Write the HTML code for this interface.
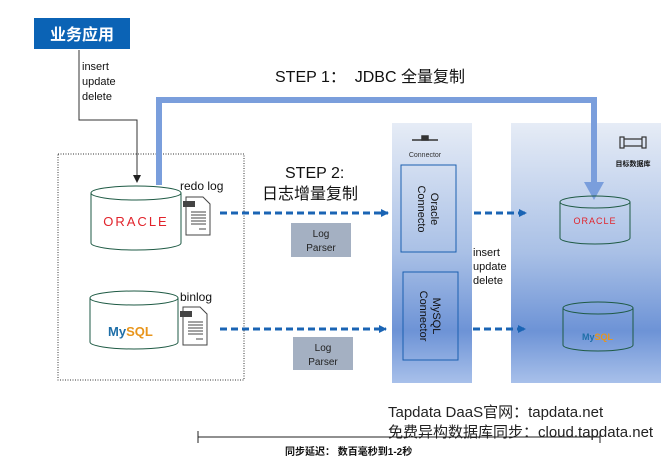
<!DOCTYPE html>
<html><head><meta charset="utf-8"><style>
body{margin:0;width:670px;height:466px;background:#fff;overflow:hidden}
text{font-family:"Liberation Sans","Noto Sans CJK SC",sans-serif}
</style></head><body>
<svg width="670" height="466" viewBox="0 0 670 466" xmlns="http://www.w3.org/2000/svg">
<defs>
<linearGradient id="g1" x1="0" y1="0" x2="0" y2="1">
<stop offset="0" stop-color="#e6ecf6"/><stop offset="0.5" stop-color="#a9c0e6"/><stop offset="0.8" stop-color="#6d93d6"/><stop offset="1" stop-color="#a8c0ea"/></linearGradient>
<marker id="ab" markerWidth="8" markerHeight="8" refX="7" refY="4" orient="auto" markerUnits="userSpaceOnUse"><path d="M0,0 L8,4 L0,8 z" fill="#1a64b4"/></marker>
<marker id="ak" markerWidth="8" markerHeight="8" refX="7" refY="4" orient="auto" markerUnits="userSpaceOnUse"><path d="M0,0 L8,4 L0,8 z" fill="#222"/></marker>
</defs>
<rect x="34" y="18" width="96" height="31" fill="#0b63b5"/>
<text x="82" y="40" font-size="16" font-weight="bold" fill="#fff" text-anchor="middle">业务应用</text>
<polyline points="79,50 79,120 137,120 137,182" fill="none" stroke="#333" stroke-width="1" marker-end="url(#ak)"/>
<text font-size="11" fill="#111"><tspan x="82" y="70">insert</tspan><tspan x="82" y="85">update</tspan><tspan x="82" y="100">delete</tspan></text>
<text x="275" y="82" font-size="16" fill="#111" xml:space="preserve">STEP 1：  JDBC 全量复制</text>
<rect x="392" y="123" width="80" height="260" fill="url(#g1)"/>
<rect x="511" y="123" width="150" height="260" fill="url(#g1)"/>
<rect x="58" y="154" width="186" height="226" fill="none" stroke="#333" stroke-dasharray="1,1.5"/>
<polyline points="159,185 159,100 594,100 594,185" fill="none" stroke="#7a9edc" stroke-width="6"/>
<path d="M584,182 L604,182 L594,200 z" fill="#7a9edc"/>
<text x="285" y="178" font-size="16" fill="#111">STEP 2:</text>
<text x="262" y="199" font-size="16" fill="#111">日志增量复制</text>
<path d="M91,193 L91,243 A45,7 0 0 0 181,243 L181,193" fill="#fff" stroke="#1e5a44"/>
<ellipse cx="136" cy="193" rx="45" ry="7" fill="#fff" stroke="#1e5a44"/>
<text x="136" y="226" font-size="13" fill="#e1232b" text-anchor="middle" letter-spacing="2">ORACLE</text>
<text x="180" y="190" font-size="12" fill="#111">redo log</text>
<g transform="translate(183,197)"><path d="M3,0 L20,0 L27,7 L27,38 L3,38 z" fill="#fff" stroke="#444"/><rect x="0" y="4" width="12" height="6" fill="#444"/><g stroke="#444"><line x1="8" y1="15" x2="23" y2="15"/><line x1="8" y1="18" x2="23" y2="18"/><line x1="8" y1="21" x2="23" y2="21"/><line x1="8" y1="24" x2="23" y2="24"/><line x1="8" y1="27" x2="23" y2="27"/><line x1="16" y1="32" x2="23" y2="32"/></g></g>
<path d="M90,298 L90,342 A44,7 0 0 0 178,342 L178,298" fill="#fff" stroke="#1e5a44"/>
<ellipse cx="134" cy="298" rx="44" ry="7" fill="#fff" stroke="#1e5a44"/>
<text x="108" y="336" font-size="13" font-weight="bold" fill="#1f6fa8">My<tspan fill="#e8951b">SQL</tspan></text>
<text x="180" y="301" font-size="12" fill="#111">binlog</text>
<g transform="translate(180,307)"><path d="M3,0 L20,0 L27,7 L27,38 L3,38 z" fill="#fff" stroke="#444"/><rect x="0" y="4" width="12" height="6" fill="#444"/><g stroke="#444"><line x1="8" y1="15" x2="23" y2="15"/><line x1="8" y1="18" x2="23" y2="18"/><line x1="8" y1="21" x2="23" y2="21"/><line x1="8" y1="24" x2="23" y2="24"/><line x1="8" y1="27" x2="23" y2="27"/><line x1="16" y1="32" x2="23" y2="32"/></g></g>
<g stroke="#1a64b4" stroke-width="3" stroke-dasharray="7,4" fill="none">
<line x1="220" y1="213" x2="388" y2="213" marker-end="url(#ab)"/>
<line x1="220" y1="329" x2="386" y2="329" marker-end="url(#ab)"/>
<line x1="474" y1="213" x2="526" y2="213" marker-end="url(#ab)"/>
<line x1="473" y1="329" x2="525" y2="329" marker-end="url(#ab)"/>
</g>
<rect x="291" y="223" width="60" height="34" fill="#a4b0c2"/>
<text font-size="10" fill="#222" text-anchor="middle"><tspan x="321" y="237">Log</tspan><tspan x="321" y="251">Parser</tspan></text>
<rect x="293" y="337" width="60" height="33" fill="#a4b0c2"/>
<text font-size="10" fill="#222" text-anchor="middle"><tspan x="323" y="351">Log</tspan><tspan x="323" y="365">Parser</tspan></text>
<g stroke="#333" stroke-width="1.5"><line x1="412" y1="140" x2="438" y2="140"/><rect x="422" y="136" width="6" height="4" fill="#333"/></g>
<text x="425" y="157" font-size="7" fill="#333" text-anchor="middle">Connector</text>
<rect x="401" y="165" width="55" height="87" fill="none" stroke="#1a5fb0"/>
<text transform="translate(428,209) rotate(90)" font-size="11" fill="#111" text-anchor="middle"><tspan x="0" y="-3">Oracle</tspan><tspan x="0" y="10">Connecto</tspan></text>
<rect x="403" y="272" width="55" height="88" fill="none" stroke="#1a5fb0"/>
<text transform="translate(430,316) rotate(90)" font-size="11" fill="#111" text-anchor="middle"><tspan x="0" y="-3">MySQL</tspan><tspan x="0" y="10">Connector</tspan></text>
<text font-size="11" fill="#111"><tspan x="473" y="256">insert</tspan><tspan x="473" y="270">update</tspan><tspan x="473" y="284">delete</tspan></text>
<g fill="none" stroke="#333" stroke-width="1.2"><rect x="620" y="137" width="4" height="11"/><rect x="642" y="137" width="4" height="11"/><line x1="624" y1="139" x2="642" y2="139"/><line x1="624" y1="146" x2="642" y2="146"/></g>
<text x="633" y="166" font-size="7" font-weight="bold" fill="#111" text-anchor="middle">目标数据库</text>
<path d="M560,202 L560,238 A35,6 0 0 0 630,238 L630,202" fill="none" stroke="#1e5a44"/>
<ellipse cx="595" cy="202" rx="35" ry="6" fill="none" stroke="#1e5a44"/>
<text x="595" y="224" font-size="9" fill="#e1232b" text-anchor="middle" letter-spacing="1">ORACLE</text>
<path d="M563,308 L563,345 A35,6 0 0 0 633,345 L633,308" fill="none" stroke="#1e5a44"/>
<ellipse cx="598" cy="308" rx="35" ry="6" fill="none" stroke="#1e5a44"/>
<text x="582" y="340" font-size="9" font-weight="bold" fill="#1f6fa8">My<tspan fill="#e8951b">SQL</tspan></text>
<text x="388" y="417" font-size="15" fill="#222">Tapdata DaaS官网：tapdata.net</text>
<text x="388" y="437" font-size="15" fill="#222">免费异构数据库同步：cloud.tapdata.net</text>
<line x1="198" y1="437" x2="600" y2="437" stroke="#222"/>
<line x1="198" y1="431" x2="198" y2="443" stroke="#222"/>
<line x1="600" y1="431" x2="600" y2="443" stroke="#222"/>
<text x="285" y="455" font-size="10" font-weight="bold" fill="#111">同步延迟： 数百毫秒到1-2秒</text>
</svg>
</body></html>
